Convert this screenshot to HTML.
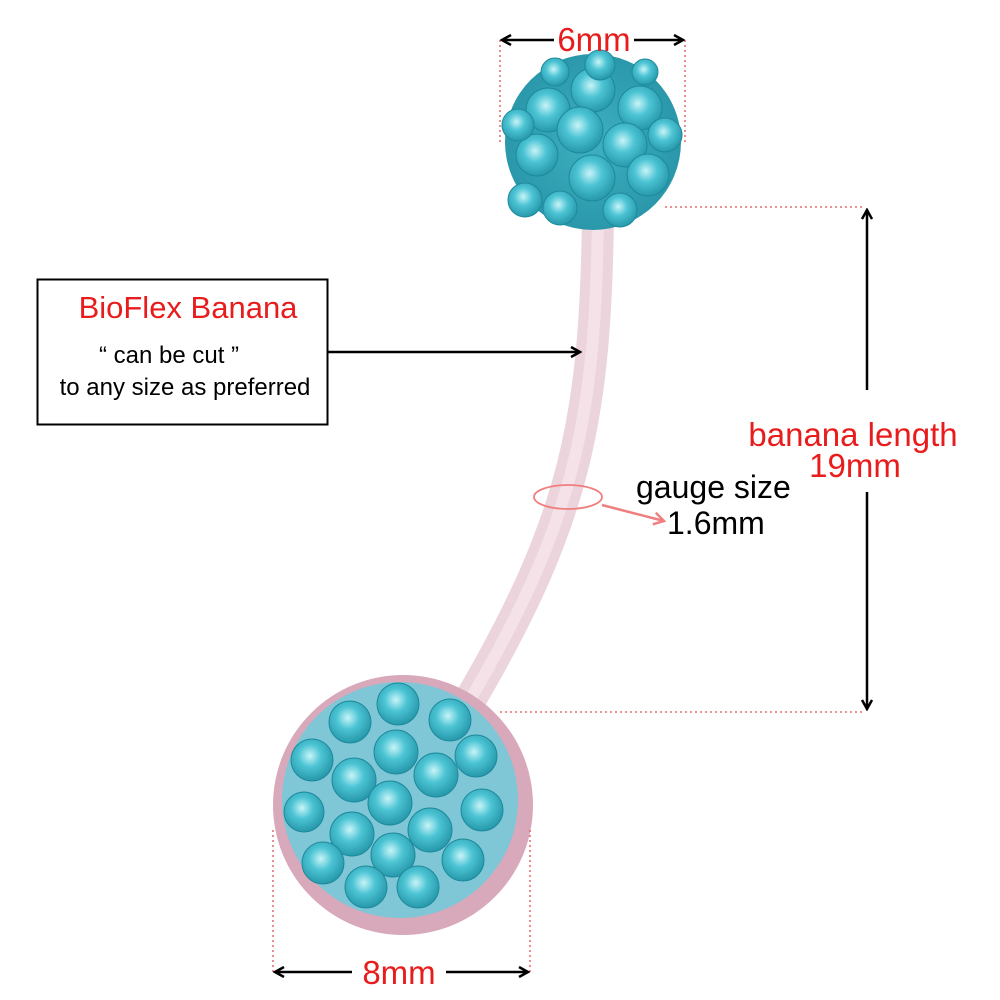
<!DOCTYPE html>
<html><head><style>
html,body{margin:0;padding:0;background:#fff;}
svg{display:block;}
text{font-family:"Liberation Sans",Arial,sans-serif;}
</style></head><body>
<svg width="1000" height="1000" viewBox="0 0 1000 1000" xmlns="http://www.w3.org/2000/svg">
<defs>
<radialGradient id="gem" cx="0.45" cy="0.4" r="0.6">
<stop offset="0" stop-color="#c8f4f8"/><stop offset="0.45" stop-color="#4cc4d4"/><stop offset="1" stop-color="#2698aa"/>
</radialGradient>
<radialGradient id="ballbg" cx="0.5" cy="0.5" r="0.5">
<stop offset="0" stop-color="#3eb0c0"/><stop offset="1" stop-color="#2a98aa"/>
</radialGradient>
<marker id="ah" markerWidth="12" markerHeight="12" refX="10" refY="6" orient="auto" markerUnits="userSpaceOnUse">
<path d="M1,1 L10,6 L1,11" fill="none" stroke="#000" stroke-width="2.5"/>
</marker>
<marker id="ahs" markerWidth="12" markerHeight="12" refX="2" refY="6" orient="auto" markerUnits="userSpaceOnUse">
<path d="M11,1 L2,6 L11,11" fill="none" stroke="#000" stroke-width="2.5"/>
</marker>
<marker id="ahp" markerWidth="14" markerHeight="14" refX="11" refY="7" orient="auto" markerUnits="userSpaceOnUse">
<path d="M1,1 L11,7 L1,13" fill="none" stroke="#ef7f7f" stroke-width="2.5"/>
</marker>
</defs>

<!-- bar -->
<path d="M598 210 C 596 420, 575 520, 470 700" fill="none" stroke="#ecd4dc" stroke-width="32"/>
<path d="M598 210 C 596 420, 575 520, 470 700" fill="none" stroke="#f4e2e8" stroke-width="12"/>

<!-- top ball -->
<circle cx="593" cy="142" r="88" fill="url(#ballbg)"/>
<g fill="url(#gem)" stroke="#1c8a9c" stroke-width="1">
<circle cx="593" cy="90" r="22"/><circle cx="548" cy="110" r="22"/><circle cx="640" cy="108" r="22"/>
<circle cx="580" cy="130" r="23"/><circle cx="625" cy="145" r="22"/><circle cx="537" cy="155" r="21"/>
<circle cx="592" cy="178" r="23"/><circle cx="648" cy="175" r="21"/><circle cx="525" cy="200" r="17"/>
<circle cx="560" cy="208" r="17"/><circle cx="620" cy="210" r="17"/><circle cx="665" cy="135" r="17"/>
<circle cx="518" cy="125" r="16"/><circle cx="600" cy="65" r="15"/><circle cx="555" cy="72" r="14"/><circle cx="645" cy="72" r="13"/>
</g>

<!-- bottom disc -->
<circle cx="403" cy="805" r="130" fill="#d8a8bb"/>
<circle cx="400" cy="800" r="118" fill="#7fc7d6"/>
<g fill="url(#gem)" stroke="#1c8a9c" stroke-width="1">
<circle cx="398" cy="704" r="21"/><circle cx="350" cy="722" r="21"/><circle cx="450" cy="720" r="21"/>
<circle cx="396" cy="752" r="22"/><circle cx="476" cy="756" r="21"/><circle cx="312" cy="760" r="21"/>
<circle cx="354" cy="780" r="22"/><circle cx="436" cy="775" r="22"/><circle cx="390" cy="803" r="22"/>
<circle cx="304" cy="812" r="20"/><circle cx="482" cy="810" r="21"/><circle cx="352" cy="834" r="22"/>
<circle cx="430" cy="830" r="22"/><circle cx="393" cy="855" r="22"/><circle cx="323" cy="863" r="21"/>
<circle cx="463" cy="860" r="21"/><circle cx="366" cy="887" r="21"/><circle cx="418" cy="887" r="21"/>
</g>

<!-- dotted guides -->
<g stroke="#e05050" stroke-width="1.3" stroke-dasharray="2,3" fill="none">
<line x1="500" y1="40" x2="500" y2="145"/><line x1="685" y1="40" x2="685" y2="145"/>
<line x1="665" y1="207" x2="865" y2="207"/><line x1="500" y1="712" x2="865" y2="712"/>
<line x1="273" y1="830" x2="273" y2="975"/><line x1="530" y1="830" x2="530" y2="975"/>
</g>

<!-- 6mm -->
<line x1="502" y1="40" x2="554" y2="40" stroke="#000" stroke-width="2.5" marker-start="url(#ahs)"/>
<line x1="634" y1="40" x2="683" y2="40" stroke="#000" stroke-width="2.5" marker-end="url(#ah)"/>
<text x="594" y="51" font-size="33" fill="#e81c1c" text-anchor="middle">6mm</text>

<!-- banana length -->
<line x1="867" y1="210" x2="867" y2="390" stroke="#000" stroke-width="2.5" marker-start="url(#ahs)"/>
<line x1="867" y1="492" x2="867" y2="709" stroke="#000" stroke-width="2.5" marker-end="url(#ah)"/>
<text x="853" y="446" font-size="33" fill="#e81c1c" text-anchor="middle">banana length</text>
<text x="855" y="477" font-size="33" fill="#e81c1c" text-anchor="middle">19mm</text>

<!-- 8mm -->
<line x1="275" y1="972" x2="352" y2="972" stroke="#000" stroke-width="2.5" marker-start="url(#ahs)"/>
<line x1="446" y1="972" x2="528" y2="972" stroke="#000" stroke-width="2.5" marker-end="url(#ah)"/>
<text x="399" y="984" font-size="33" fill="#e81c1c" text-anchor="middle">8mm</text>

<!-- box -->
<rect x="37.5" y="279.5" width="290" height="145" fill="#fff" stroke="#000" stroke-width="2"/>
<text x="188" y="318" font-size="31" fill="#e81c1c" text-anchor="middle">BioFlex Banana</text>
<text x="169" y="363" font-size="24" fill="#000" text-anchor="middle">“ can be cut ”</text>
<text x="185" y="395" font-size="24" fill="#000" text-anchor="middle">to any size as preferred</text>
<line x1="328" y1="352" x2="580" y2="352" stroke="#000" stroke-width="2.5" marker-end="url(#ah)"/>

<!-- gauge -->
<ellipse cx="568" cy="497" rx="34" ry="12" fill="none" stroke="#ef7f7f" stroke-width="1.8"/>
<line x1="602" y1="505" x2="664" y2="521" stroke="#ef7f7f" stroke-width="2.5" marker-end="url(#ahp)"/>
<text x="636" y="498" font-size="32" fill="#000">gauge size</text>
<text x="667" y="534" font-size="32" fill="#000">1.6mm</text>
</svg>
</body></html>
